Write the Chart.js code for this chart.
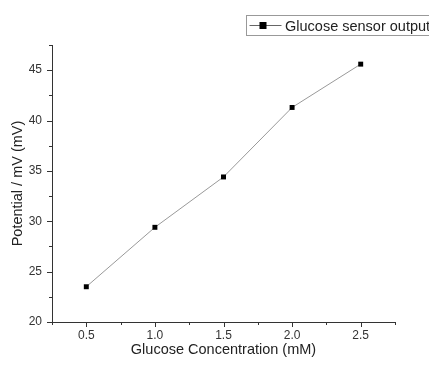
<!DOCTYPE html>
<html>
<head>
<meta charset="utf-8">
<script src="https://cdn.jsdelivr.net/npm/chart.js@4"></script>
<style>
  html, body { margin: 0; padding: 0; background: #fff; }
  #wrap { width: 429px; height: 365px; }
</style>
</head>
<body>
<div id="wrap"><canvas id="c" width="429" height="365"></canvas></div>
<script>
// data
const concentrations = [0.5, 1.0, 1.5, 2.0, 2.5];
const potentials = [23.5, 29.4, 34.4, 41.3, 45.6];
const seriesLabel = "Glucose sensor output";

// ticks
const xMajor = [0.5, 1.0, 1.5, 2.0, 2.5];
const xMinor = [0.25, 0.75, 1.25, 1.75, 2.25, 2.75];
const yMajor = [20, 25, 30, 35, 40, 45];
const yMinor = [22.5, 27.5, 32.5, 37.5, 42.5, 47.5];

const axisColor = "#333";
const font = "Liberation Sans, Arial, sans-serif";

// draws the axis lines with outward tick marks (Origin style) + legend box
const axesPlugin = {
  id: "axes",
  afterDraw(chart) {
    const ctx = chart.ctx;
    const xs = chart.scales.x, ys = chart.scales.y;
    const a = chart.chartArea;
    ctx.save();
    ctx.strokeStyle = axisColor;
    ctx.lineWidth = 1;
    ctx.beginPath();
    ctx.moveTo(a.left + 0.5, a.top);
    ctx.lineTo(a.left + 0.5, a.bottom + 0.5);
    ctx.lineTo(a.right, a.bottom + 0.5);
    xMajor.forEach(v => { const p = Math.round(xs.getPixelForValue(v)) + 0.5; ctx.moveTo(p, a.bottom); ctx.lineTo(p, a.bottom + 5); });
    xMinor.forEach(v => { const p = Math.round(xs.getPixelForValue(v)) + 0.5; ctx.moveTo(p, a.bottom); ctx.lineTo(p, a.bottom + 3); });
    yMajor.forEach(v => { const p = Math.round(ys.getPixelForValue(v)) + 0.5; ctx.moveTo(a.left, p); ctx.lineTo(a.left - 5, p); });
    yMinor.forEach(v => { const p = Math.round(ys.getPixelForValue(v)) + 0.5; ctx.moveTo(a.left, p); ctx.lineTo(a.left - 3, p); });
    ctx.stroke();

    // legend box
    const bx = 246.5, by = 15.5, bw = 190, bh = 20;
    ctx.strokeStyle = "#999";
    ctx.strokeRect(bx, by, bw, bh);
    const my = by + bh / 2;
    ctx.strokeStyle = "#666";
    ctx.beginPath();
    ctx.moveTo(bx + 3, my); ctx.lineTo(bx + 35, my);
    ctx.stroke();
    ctx.fillStyle = "#000";
    ctx.fillRect(bx + 13, my - 3.5, 7, 7);
    ctx.fillStyle = "#222";
    ctx.font = "14.5px " + font;
    ctx.textBaseline = "middle";
    ctx.fillText(seriesLabel, bx + 38.5, my + 1);
    ctx.restore();
  }
};

new Chart(document.getElementById("c"), {
  type: "scatter",
  data: {
    datasets: [{
      label: seriesLabel,
      data: concentrations.map((x, i) => ({ x, y: potentials[i] })),
      showLine: true,
      borderColor: "#999",
      borderWidth: 1,
      pointStyle: "rect",
      pointRadius: 3.5,
      pointBackgroundColor: "#000",
      pointBorderColor: "#000",
      pointBorderWidth: 0
    }]
  },
  options: {
    responsive: false,
    animation: false,
    layout: { padding: { top: 45, right: 34, left: 0, bottom: 0 } },
    plugins: { legend: { display: false }, tooltip: { enabled: false } },
    scales: {
      x: {
        type: "linear",
        min: 0.25,
        max: 2.75,
        afterBuildTicks: s => { s.ticks = xMajor.map(v => ({ value: v })); },
        afterFit: s => { s.height = 43; },
        grid: { display: false, drawTicks: false },
        border: { display: false },
        ticks: {
          padding: 6,
          color: axisColor,
          font: { family: font, size: 12 },
          callback: v => v.toFixed(1)
        },
        title: {
          display: true,
          text: "Glucose Concentration (mM)",
          color: "#222",
          font: { family: font, size: 14.5 },
          padding: { top: 0, bottom: 6 }
        }
      },
      y: {
        min: 20,
        max: 47.5,
        afterBuildTicks: s => { s.ticks = yMajor.map(v => ({ value: v })); },
        afterFit: s => { s.width = 52; },
        grid: { display: false, drawTicks: false },
        border: { display: false },
        ticks: {
          padding: 10,
          color: axisColor,
          font: { family: font, size: 12 }
        },
        title: {
          display: true,
          text: "Potential / mV (mV)",
          color: "#222",
          font: { family: font, size: 14.5 },
          padding: { top: 9, bottom: 0 }
        }
      }
    }
  },
  plugins: [axesPlugin]
});
</script>
</body>
</html>
